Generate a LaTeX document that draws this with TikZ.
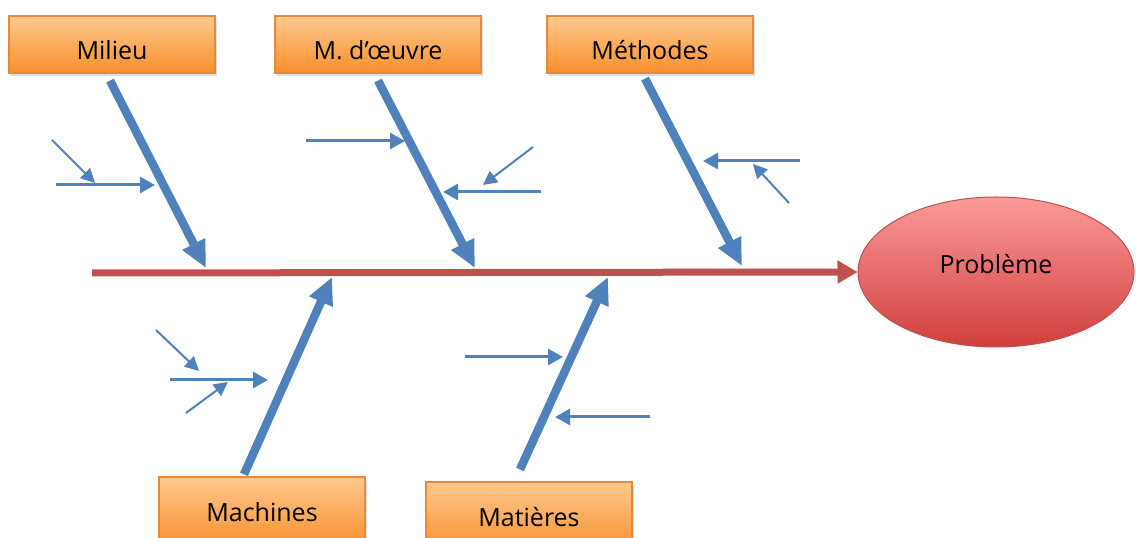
\documentclass[tikz,border=0pt]{standalone}
\usepackage{fontspec}
\setmainfont{Open Sans}
\usepackage{tikz}
\usetikzlibrary{arrows.meta,shapes,shadows}

\definecolor{bonecol}{HTML}{4F81BD}
\definecolor{spinecol}{HTML}{C0504D}
\definecolor{boxtop}{HTML}{FFC98F}
\definecolor{boxbot}{HTML}{F8902C}
\definecolor{boxline}{HTML}{E8893A}
\definecolor{elltop}{HTML}{FB9A98}
\definecolor{ellbot}{HTML}{D03F3D}

\begin{document}
\begin{tikzpicture}[x=1pt,y=1pt,
    cause/.style={draw=boxline,line width=1.2pt,top color=boxtop,bottom color=boxbot,
        minimum width=206pt,minimum height=57pt,font=\fontsize{25}{30}\selectfont,
        drop shadow={opacity=0.25,shadow xshift=2pt,shadow yshift=-3pt}},
    bone/.style={draw=bonecol,line width=8.5pt,-{Triangle[length=27pt,width=24pt]}},
    subcause/.style={draw=bonecol,line width=3pt,-{Triangle[length=15pt,width=16pt]}},
    minor/.style={draw=bonecol,line width=2pt,-{Triangle[length=14pt,width=14pt]}}]
\useasboundingbox (0,0) rectangle (1136,538);

% effect
\node[ellipse,draw=spinecol,line width=1pt,top color=elltop,bottom color=ellbot,
    minimum width=276pt,minimum height=150pt,inner sep=0pt,text height=4pt,text depth=0pt,
    font=\fontsize{25}{30}\selectfont] at (996,266) (probleme) {Problème};

% causes
\node[cause,text height=31pt,text depth=0pt] at (112,493.5) (milieu) {Milieu};
\node[cause,text height=31pt,text depth=0pt] at (378,493.5) (moeuvre) {M. d’œuvre};
\node[cause,text height=31pt,text depth=0pt] at (650,493.5) (methodes) {Méthodes};
\node[cause,minimum height=70pt] at (262,26) (machines) {Machines};
\node[cause,minimum height=70pt] at (529,21) (matieres) {Matières};

% spine
\coordinate (tail) at (92,265);
\draw[draw=spinecol,line width=7pt,-{Triangle[length=20pt,width=22pt]}] (tail) -- (probleme.west);

\coordinate (t1) at (206,270);
\coordinate (t2) at (475,270);
\coordinate (t3) at (742,272);
\coordinate (t4) at (332,261);
\coordinate (t5) at (608,261);

\draw[bone] ([shift={(-2,-7)}]milieu.south) -- (t1);
\draw[bone] ([shift={(0,-7)}]moeuvre.south) -- (t2);
\draw[bone] ([shift={(-5,-5)}]methodes.south) -- (t3);
\draw[bone] ([shift={(-18,2)}]machines.north) -- (t4);
\draw[bone] ([shift={(-9,12)}]matieres.north) -- (t5);

% Milieu
\coordinate (a1) at (56,353);  \coordinate (a1e) at (155,353);
\coordinate (a2) at (52,398);  \coordinate (a2e) at (95,355);
\draw[subcause] (a1) -- (a1e);
\draw[minor] (a2) -- (a2e);

% M. d'oeuvre
\coordinate (b1) at (306,397); \coordinate (b1e) at (405,397);
\coordinate (b2) at (541,346); \coordinate (b2e) at (443,346);
\coordinate (b3) at (533,391); \coordinate (b3e) at (483,353);
\draw[subcause] (b1) -- (b1e);
\draw[subcause] (b2) -- (b2e);
\draw[minor] (b3) -- (b3e);

% Methodes
\coordinate (c1) at (800,377); \coordinate (c1e) at (703,377);
\coordinate (c2) at (789,335); \coordinate (c2e) at (753,374);
\draw[subcause] (c1) -- (c1e);
\draw[minor] (c2) -- (c2e);

% Machines
\coordinate (d1) at (170,158); \coordinate (d1e) at (268,158);
\coordinate (d2) at (156,208); \coordinate (d2e) at (199,167);
\coordinate (d3) at (186,125); \coordinate (d3e) at (228,156);
\draw[subcause] (d1) -- (d1e);
\draw[minor] (d2) -- (d2e);
\draw[minor] (d3) -- (d3e);

% Matieres
\coordinate (e1) at (465,181); \coordinate (e1e) at (563,181);
\coordinate (e2) at (650,121); \coordinate (e2e) at (555,121);
\draw[subcause] (e1) -- (e1e);
\draw[subcause] (e2) -- (e2e);
\end{tikzpicture}
\end{document}
